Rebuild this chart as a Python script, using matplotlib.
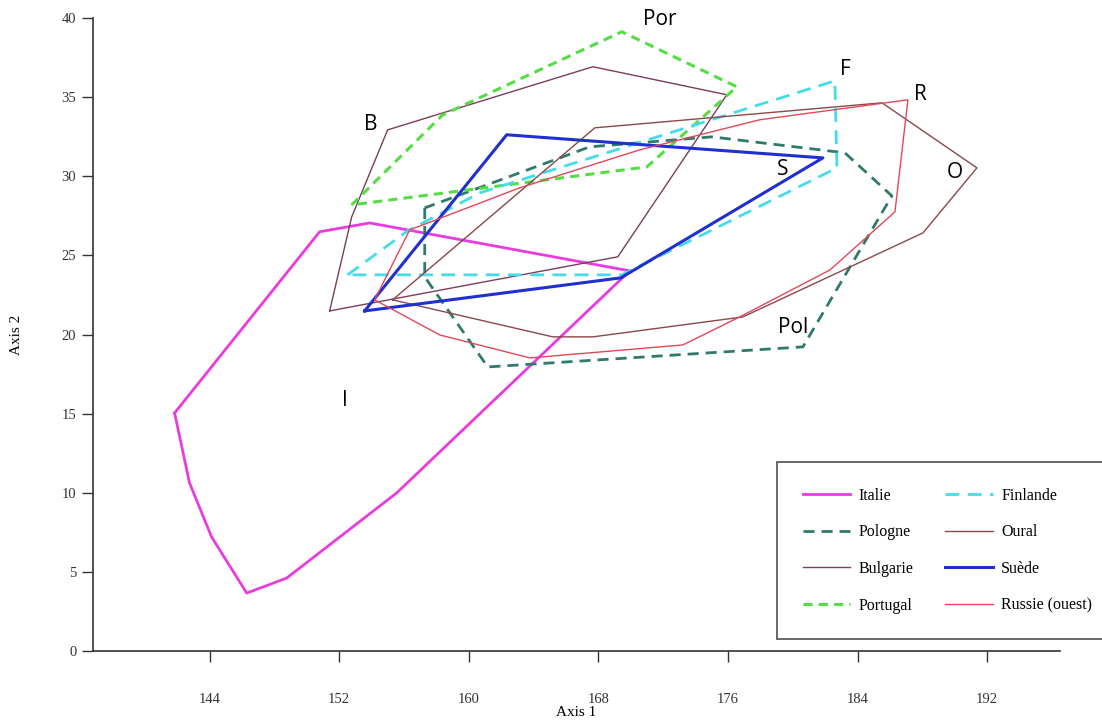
import matplotlib
matplotlib.use("Agg")
import matplotlib.pyplot as plt

# polygon vertices (Axis 1, Axis 2)
italie_x = [141.84, 142.76, 144.12, 146.29, 148.76, 155.55, 169.94, 153.88, 150.79]
italie_y = [15.04, 10.62, 7.21, 3.66, 4.61, 9.99, 24.02, 27.05, 26.49]

pologne_x = [157.28, 157.28, 161.17, 180.63, 186.12, 183.22, 175.01, 167.47]
pologne_y = [28.0, 23.64, 17.95, 19.22, 28.76, 31.48, 32.49, 31.86]

bulgarie_x = [151.41, 152.77, 154.99, 167.66, 175.93, 169.2]
bulgarie_y = [21.49, 27.43, 32.93, 36.92, 35.15, 24.91]

portugal_x = [152.77, 158.39, 169.45, 176.55, 170.99]
portugal_y = [28.19, 33.88, 39.13, 35.65, 30.59]

finlande_x = [152.52, 156.23, 160.68, 182.60, 182.73, 169.45]
finlande_y = [23.77, 26.55, 28.95, 36.03, 30.53, 23.77]

oural_x = [155.30, 165.19, 167.66, 176.92, 188.04, 191.37, 185.51, 167.78]
oural_y = [22.19, 19.85, 19.85, 21.11, 26.42, 30.53, 34.64, 33.06]

suede_x = [153.57, 162.34, 181.86, 169.39]
suede_y = [21.49, 32.62, 31.16, 23.58]

russie_x = [154.19, 158.21, 163.77, 173.22, 176.86, 182.30, 186.31, 187.11,
            177.97, 170.56, 163.15, 156.35]
russie_y = [22.19, 19.97, 18.52, 19.34, 21.18, 24.08, 27.75, 34.83,
            33.57, 31.67, 29.27, 26.61]

# group labels written on the plot
lab_text = ['Por', 'B', 'F', 'R', 'O', 'S', 'Pol', 'I']
lab_x = [171.8, 153.94, 183.28, 187.85, 190.02, 179.39, 180.01, 152.34]
lab_y = [39.89, 33.25, 36.73, 35.15, 30.21, 30.4, 20.42, 15.8]

x_ticks = [144, 152, 160, 168, 176, 184, 192]
y_ticks = [0, 5, 10, 15, 20, 25, 30, 35, 40]


def closed(xs, ys):
    return xs + xs[:1], ys + ys[:1]


fig = plt.figure(figsize=(11.02, 7.22), dpi=100)
ax = fig.add_axes([93 / 1102, 71 / 722, 967 / 1102, 633 / 722])

serif = 'Liberation Serif'

x, y = closed(italie_x, italie_y)
ax.plot(x, y, color='#e83ce0', lw=2.0, label='Italie')
x, y = closed(pologne_x, pologne_y)
ax.plot(x, y, color='#2f7a6c', lw=2.0, ls=(0, (4, 2.5)), label='Pologne')
x, y = closed(bulgarie_x, bulgarie_y)
ax.plot(x, y, color='#7a3d5e', lw=1.0, label='Bulgarie')
x, y = closed(portugal_x, portugal_y)
ax.plot(x, y, color='#55dd44', lw=2.2, ls=(0, (3, 2)), label='Portugal')
x, y = closed(finlande_x, finlande_y)
ax.plot(x, y, color='#44dce8', lw=2.0, ls=(0, (5, 3)), label='Finlande')
x, y = closed(oural_x, oural_y)
ax.plot(x, y, color='#8a4848', lw=1.0, label='Oural')
x, y = closed(suede_x, suede_y)
ax.plot(x, y, color='#1f2fd0', lw=2.2, label='Suède')
x, y = closed(russie_x, russie_y)
ax.plot(x, y, color='#e2475a', lw=1.0, label='Russie (ouest)')

for t, tx, ty in zip(lab_text, lab_x, lab_y):
    ax.text(tx, ty, t, fontsize=15, family='Open Sans', ha='center', va='center')

ax.set_xlim(136.8, 196.5)
ax.set_ylim(0, 40)
ax.set_xticks(x_ticks)
ax.set_yticks(y_ticks)
for s in ['top', 'right']:
    ax.spines[s].set_visible(False)
for s in ['left', 'bottom']:
    ax.spines[s].set_color('#333333')
    ax.spines[s].set_linewidth(1.2)
ax.tick_params(direction='out', length=8, width=1, colors='#333333',
               labelsize=10.5, pad=4)
ax.tick_params(axis='x', pad=22)
for lbl in ax.get_xticklabels() + ax.get_yticklabels():
    lbl.set_family(serif)

ax.set_xlabel('Axis 1', family=serif, fontsize=11, labelpad=0)
ax.set_ylabel('Axis 2', family=serif, fontsize=11, labelpad=28)

leg = ax.legend(ncol=2, loc='upper left', bbox_to_anchor=(777 / 1102, 1 - 462 / 722),
                bbox_transform=fig.transFigure, prop={'family': serif, 'size': 11.5},
                frameon=True, fancybox=False, edgecolor='#333333', borderaxespad=0,
                handlelength=3.0, labelspacing=1.3, columnspacing=2.0,
                borderpad=1.6, handletextpad=0.5)
leg.get_frame().set_linewidth(1.3)

plt.savefig('out.png', dpi=100)
